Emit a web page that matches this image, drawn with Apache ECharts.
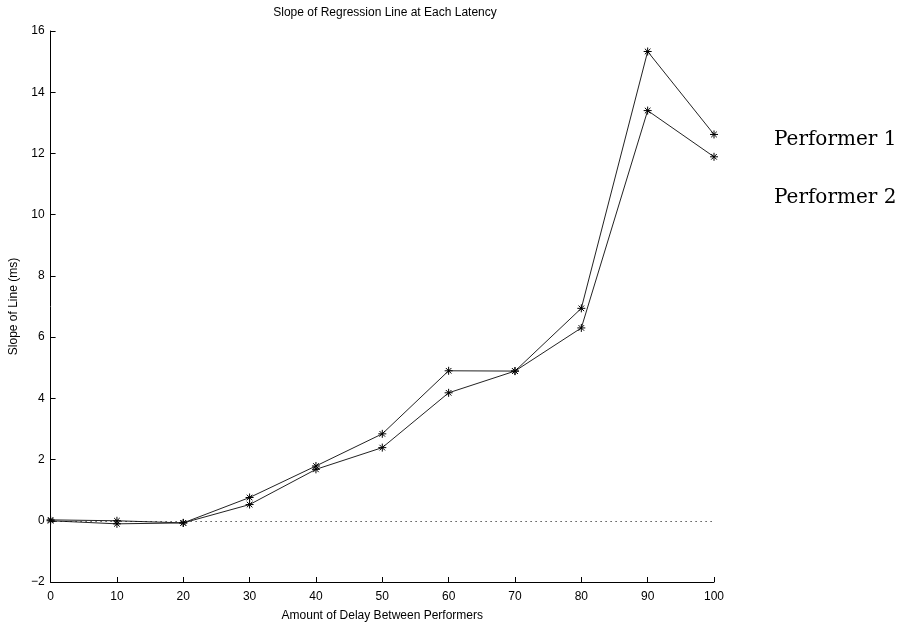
<!DOCTYPE html>
<html>
<head>
<meta charset="utf-8">
<title>Slope of Regression Line</title>
<script src="https://cdn.jsdelivr.net/npm/echarts@6/dist/echarts.min.js"></script>
<style>
  html, body { margin: 0; padding: 0; background: #fff; }
  #chart { width: 900px; height: 627px; }
</style>
</head>
<body>
<div id="chart"></div>
<script>
// 数据
var delays = [0, 10, 20, 30, 40, 50, 60, 70, 80, 90, 100];
var performer1 = [0.03, 0, -0.07, 0.76, 1.79, 2.84, 4.9, 4.89, 6.94, 15.33, 12.62];
var performer2 = [0, -0.1, -0.07, 0.53, 1.68, 2.39, 4.18, 4.89, 6.3, 13.4, 11.89];
var seriesNames = ['Performer 1', 'Performer 2'];

// 星号标记 (matlab 的 '*')
var star = 'path://M0,-10L0,10M-10,0L10,0M-7,-7L7,7M-7,7L7,-7';

function pairs(xs, ys) {
  return xs.map(function (x, i) { return [x, ys[i]]; });
}

var chart = echarts.init(document.getElementById('chart'));

var sans = 'Liberation Sans';

var option = {
  animation: false,
  title: {
    text: 'Slope of Regression Line at Each Latency',
    left: 380,
    textAlign: 'center',
    top: 2,
    textStyle: { fontFamily: sans, fontSize: 12, fontWeight: 'normal', color: '#000' }
  },
  // 图例：只有文字
  legend: {
    orient: 'vertical',
    left: 763,
    top: 125,
    itemGap: 38,
    itemWidth: 0,
    itemHeight: 0,
    data: seriesNames,
    textStyle: { fontFamily: 'DejaVu Serif', fontSize: 20, color: '#000' }
  },
  grid: { left: 47, right: 186, top: 31, bottom: 44 },
  xAxis: {
    type: 'value',
    min: 0,
    max: 100,
    interval: 10,
    name: 'Amount of Delay Between Performers',
    nameLocation: 'middle',
    nameGap: 28,
    nameTextStyle: { fontFamily: sans, fontSize: 12, color: '#000' },
    axisLine: { onZero: false, lineStyle: { color: '#000', width: 1 } },
    axisTick: { inside: true, length: 5, lineStyle: { color: '#000' } },
    axisLabel: { fontFamily: sans, fontSize: 12, color: '#000', margin: 9 },
    splitLine: { show: false }
  },
  yAxis: {
    type: 'value',
    min: -2,
    max: 16,
    interval: 2,
    name: 'Slope of Line (ms)',
    nameLocation: 'middle',
    nameGap: 23,
    nameTextStyle: { fontFamily: sans, fontSize: 12, color: '#000' },
    axisLine: { show: true, lineStyle: { color: '#000', width: 1 } },
    axisTick: { show: true, inside: true, length: 5, lineStyle: { color: '#000' } },
    axisLabel: {
      fontFamily: sans, fontSize: 12, color: '#000', margin: 6,
      formatter: function (v) { return v < 0 ? '\u2212' + (-v) : String(v); }
    },
    splitLine: { show: false }
  },
  series: [
    {
      name: seriesNames[0],
      type: 'line',
      data: pairs(delays, performer1),
      symbol: star,
      symbolSize: 8,
      lineStyle: { color: '#222', width: 1 },
      itemStyle: { color: '#000', borderColor: '#000', borderWidth: 1 },
      // y=0 的虚线
      markLine: {
        silent: true,
        symbol: ['none', 'none'],
        label: { show: false },
        lineStyle: { color: '#000', type: [1, 4], width: 1 },
        data: [{ yAxis: 0 }]
      }
    },
    {
      name: seriesNames[1],
      type: 'line',
      data: pairs(delays, performer2),
      symbol: star,
      symbolSize: 8,
      lineStyle: { color: '#222', width: 1 },
      itemStyle: { color: '#000', borderColor: '#000', borderWidth: 1 }
    }
  ]
};

chart.setOption(option);
</script>
</body>
</html>
